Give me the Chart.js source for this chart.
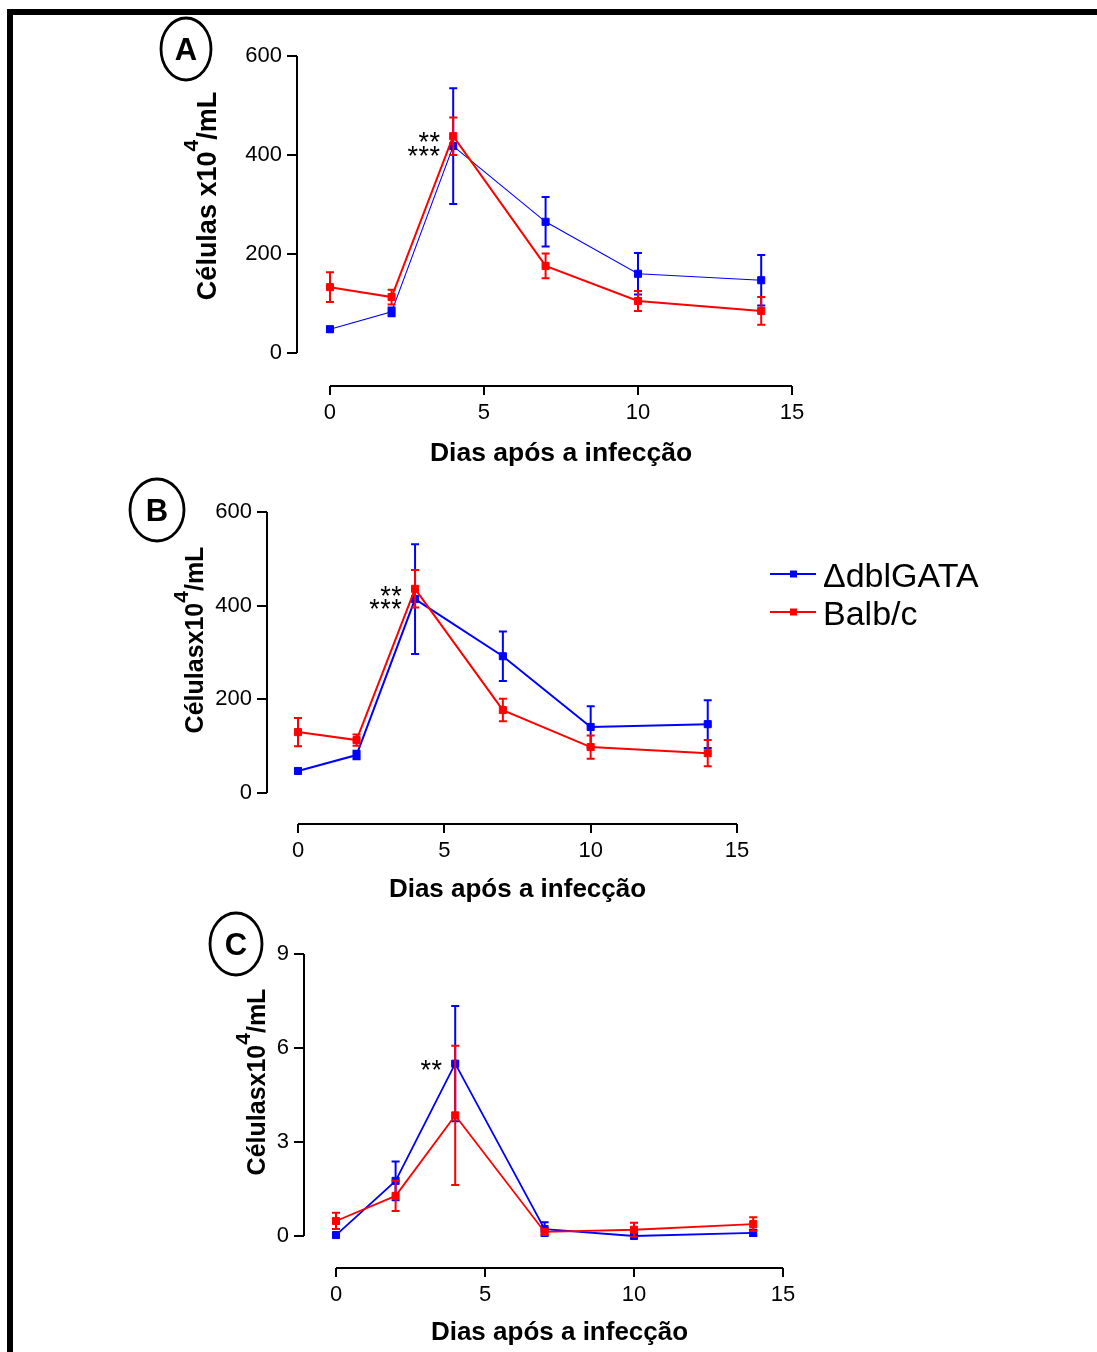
<!DOCTYPE html>
<html>
<head>
<meta charset="utf-8">
<script src="https://cdn.jsdelivr.net/npm/chart.js@4.4.0/dist/chart.umd.min.js"></script>
<style>
  body { margin: 0; background: #fff; }
  #page { position: relative; width: 1097px; height: 1352px; overflow: hidden; }
  #frame { position: absolute; left: 7px; top: 9px; right: 0; bottom: 0;
           border-top: 6px solid #000; border-left: 6px solid #000; }
  canvas { position: absolute; left: 0; top: 0; }
</style>
</head>
<body>
<div id="page">
  <div id="frame"></div>
  <canvas id="graficoA" width="1097" height="1352"></canvas>
  <canvas id="graficoB" width="1097" height="1352"></canvas>
  <canvas id="graficoC" width="1097" height="1352"></canvas>
</div>
<script>
// dias de coleta
const dias = [0, 2, 4, 7, 10, 14];
const diasTicks = [0, 5, 10, 15];
const celulasTicks = [0, 200, 400, 600];
const celulasTicksC = [0, 3, 6, 9];

const nomes = ['\u0394dblGATA', 'Balb/c'];
const cores = ['#0000ff', '#ff0000'];

// painel A
const gataA = [48, 83, 418, 265, 160, 147];
const gataErroA = [5, 9, 117, 50, 42, 51];
const balbA = [133, 113, 438, 176, 105, 85];
const balbErroA = [30, 15, 38, 25, 20, 28];

// painel B
const gataB = [47, 81, 414, 292, 141, 147];
const gataErroB = [5, 9, 117, 53, 44, 51];
const balbB = [130, 113, 436, 177, 98, 85];
const balbErroB = [30, 12, 40, 24, 25, 28];

// painel C
const gataC = [0.03, 1.76, 5.5, 0.22, 0.0, 0.1];
const gataErroC = [0.05, 0.62, 1.84, 0.22, 0.05, 0.1];
const balbC = [0.48, 1.28, 3.85, 0.13, 0.2, 0.38];
const balbErroC = [0.26, 0.48, 2.22, 0.08, 0.22, 0.22];

const FONTE = '"Liberation Sans", Arial, sans-serif';
const LARG_Y = 60, ALT_X = 60;

function pontos(vals) {
    return dias.map((d, i) => ({ x: d, y: vals[i] }));
}

function desenhaExtras(chart, p) {
    const ctx = chart.ctx;
    const xs = chart.scales.x, ys = chart.scales.y;
    const area = chart.chartArea;
    ctx.save();
    ctx.strokeStyle = '#000';
    ctx.lineWidth = 2;
    // eixo y só de 0 até o máximo
    ctx.beginPath();
    ctx.moveTo(area.left, ys.getPixelForValue(p.yTicks[p.yTicks.length - 1]));
    ctx.lineTo(area.left, ys.getPixelForValue(0));
    // eixo x de 0 a 15
    ctx.moveTo(xs.getPixelForValue(0), area.bottom);
    ctx.lineTo(xs.getPixelForValue(15), area.bottom);
    ctx.stroke();

    // título x
    ctx.fillStyle = '#000';
    ctx.font = 'bold ' + p.xTitulo.size + 'px ' + FONTE;
    ctx.textAlign = 'center';
    ctx.textBaseline = 'alphabetic';
    const meioX = (xs.getPixelForValue(0) + xs.getPixelForValue(15)) / 2;
    ctx.fillText('Dias após a infecção', meioX, p.xTitulo.base);

    // título y com expoente
    const t = p.yTitulo;
    const sup = t.supSize;
    ctx.save();
    ctx.translate(t.baseX, t.centroY);
    ctx.rotate(-Math.PI / 2);
    ctx.textAlign = 'left';
    ctx.font = 'bold ' + t.size + 'px ' + FONTE;
    const w1 = ctx.measureText(t.antes).width;
    const w3 = ctx.measureText('/mL').width;
    ctx.font = 'bold ' + sup + 'px ' + FONTE;
    const w2 = ctx.measureText('4').width;
    let x0 = -(w1 + w2 + w3) / 2;
    ctx.font = 'bold ' + t.size + 'px ' + FONTE;
    ctx.fillText(t.antes, x0, 0);
    ctx.font = 'bold ' + sup + 'px ' + FONTE;
    ctx.fillText('4', x0 + w1, -t.supRaise);
    ctx.font = 'bold ' + t.size + 'px ' + FONTE;
    ctx.fillText('/mL', x0 + w1 + w2, 0);
    ctx.restore();

    // asteriscos, um a um, alinhados à direita
    ctx.textAlign = 'center';
    ctx.font = '27px ' + FONTE;
    p.estrelas.forEach(s => {
        const direita = xs.getPixelForValue(s.x) - 13;
        const py = ys.getPixelForValue(s.y) + 27 * 0.56 - 1;
        for (let k = 0; k < s.texto.length; k++) {
            ctx.fillText('*', direita - 5.5 - k * 11, py);
        }
    });

    // letra do painel
    const c = p.letra;
    ctx.lineWidth = 2.8;
    ctx.beginPath();
    ctx.ellipse(c.cx, c.cy, c.rx, c.ry, 0, 0, Math.PI * 2);
    ctx.stroke();
    ctx.font = 'bold 31px ' + FONTE;
    ctx.textAlign = 'center';
    ctx.fillText(c.texto, c.cx, c.cy + 11);

    // legenda
    if (p.legenda) {
        chart.data.datasets.forEach((ds, i) => {
            const ly = p.legenda.y[i];
            ctx.strokeStyle = ds.borderColor;
            ctx.fillStyle = ds.borderColor;
            ctx.lineWidth = 2;
            ctx.beginPath();
            ctx.moveTo(p.legenda.x, ly);
            ctx.lineTo(p.legenda.x + 46, ly);
            ctx.stroke();
            ctx.fillRect(p.legenda.x + 20, ly - 3.5, 7, 7);
            ctx.fillStyle = '#000';
            ctx.textAlign = 'left';
            ctx.font = '34px ' + FONTE;
            ctx.fillText(ds.label, p.legenda.x + 53, ly + 13);
        });
    }
    ctx.restore();
}

function barrasErro(chart, args) {
    const ds = chart.data.datasets[args.index];
    const ctx = chart.ctx;
    const xs = chart.scales.x, ys = chart.scales.y;
    ctx.save();
    ctx.strokeStyle = ds.borderColor;
    ctx.lineWidth = 2;
    ds.data.forEach((pt, i) => {
        const e = ds.erros[i];
        const x = xs.getPixelForValue(pt.x);
        const y1 = ys.getPixelForValue(pt.y + e);
        const y2 = ys.getPixelForValue(pt.y - e);
        ctx.beginPath();
        ctx.moveTo(x, y1); ctx.lineTo(x, y2);
        ctx.moveTo(x - 4, y1); ctx.lineTo(x + 4, y1);
        ctx.moveTo(x - 4, y2); ctx.lineTo(x + 4, y2);
        ctx.stroke();
    });
    ctx.restore();
}

function serie(i, vals, erros, espessura) {
    return {
        label: nomes[i],
        data: pontos(vals),
        erros: erros,
        borderColor: cores[i],
        backgroundColor: cores[i],
        pointBackgroundColor: cores[i],
        pointBorderColor: cores[i],
        pointStyle: 'rect',
        pointRadius: 5,
        pointBorderWidth: 1,
        borderWidth: espessura[i],
        tension: 0,
        order: 2 - i
    };
}

function fazGrafico(id, p) {
    new Chart(document.getElementById(id), {
        type: 'line',
        data: { datasets: p.series },
        options: {
            responsive: false,
            animation: false,
            events: [],
            layout: {
                padding: {
                    left: p.area.left - LARG_Y,
                    top: p.area.top,
                    right: 1097 - p.area.right,
                    bottom: 1352 - p.area.bottom - ALT_X
                }
            },
            plugins: { legend: { display: false }, tooltip: { enabled: false } },
            scales: {
                x: {
                    type: 'linear',
                    min: p.xMin, max: 15,
                    afterBuildTicks: s => { s.ticks = diasTicks.map(v => ({ value: v })); },
                    afterFit: s => { s.height = ALT_X; },
                    ticks: { color: '#000', font: { family: FONTE, size: 22 }, padding: 5, maxRotation: 0, autoSkip: false },
                    grid: { drawOnChartArea: false, drawTicks: true, tickLength: 9, color: '#000', lineWidth: 2 },
                    border: { display: false }
                },
                y: {
                    type: 'linear',
                    min: p.yMin, max: p.yTicks[p.yTicks.length - 1],
                    afterBuildTicks: s => { s.ticks = p.yTicks.map(v => ({ value: v })); },
                    afterFit: s => { s.width = LARG_Y; },
                    ticks: { color: '#000', font: { family: FONTE, size: 22 }, padding: 5, autoSkip: false },
                    grid: { drawOnChartArea: false, drawTicks: true, tickLength: 10, color: '#000', lineWidth: 2 },
                    border: { display: false }
                }
            }
        },
        plugins: [{
            id: 'extras' + id,
            afterDatasetDraw: barrasErro,
            afterDraw: chart => desenhaExtras(chart, p)
        }]
    });
}

fazGrafico('graficoA', {
    area: { left: 297, top: 56, right: 792, bottom: 386 },
    xMin: -1.071, yMin: -66.7, yTicks: celulasTicks,
    series: [serie(0, gataA, gataErroA, [1.1, 2]), serie(1, balbA, balbErroA, [1.1, 2])],
    xTitulo: { size: 26.5, base: 461 },
    yTitulo: { antes: 'Células x10', size: 27, supSize: 21, supRaise: 18, baseX: 216, centroY: 196 },
    estrelas: [{ x: 4, y: 436, texto: '**' }, { x: 4, y: 408, texto: '***' }],
    letra: { texto: 'A', cx: 186, cy: 49, rx: 25, ry: 31 }
});

fazGrafico('graficoB', {
    area: { left: 267, top: 512, right: 737, bottom: 824 },
    xMin: -1.059, yMin: -66.2, yTicks: celulasTicks,
    series: [serie(0, gataB, gataErroB, [2, 2]), serie(1, balbB, balbErroB, [2, 2])],
    xTitulo: { size: 26, base: 897 },
    yTitulo: { antes: 'Célulasx10', size: 25, supSize: 21, supRaise: 15, baseX: 203, centroY: 640 },
    estrelas: [{ x: 4, y: 432, texto: '**' }, { x: 4, y: 404, texto: '***' }],
    letra: { texto: 'B', cx: 157, cy: 510, rx: 27, ry: 31 },
    legenda: { x: 770, y: [574, 612] }
});

fazGrafico('graficoC', {
    area: { left: 304, top: 954, right: 783, bottom: 1268 },
    xMin: -1.074, yMin: -1.021, yTicks: celulasTicksC,
    series: [serie(0, gataC, gataErroC, [1.8, 1.8]), serie(1, balbC, balbErroC, [1.8, 1.8])],
    xTitulo: { size: 26, base: 1340 },
    yTitulo: { antes: 'Célulasx10', size: 25, supSize: 21, supRaise: 15, baseX: 265, centroY: 1082 },
    estrelas: [{ x: 4, y: 5.46, texto: '**' }],
    letra: { texto: 'C', cx: 236, cy: 944, rx: 26, ry: 31 }
});
</script>
</body>
</html>
